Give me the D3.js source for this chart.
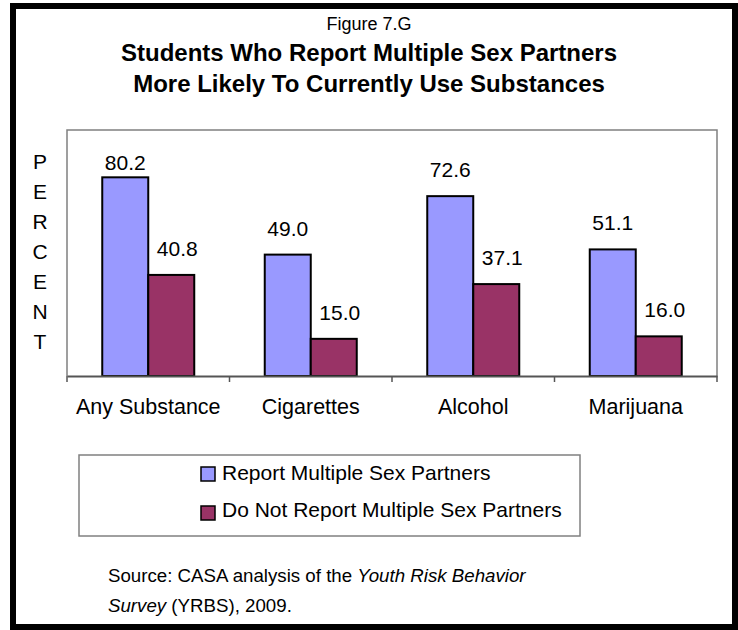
<!DOCTYPE html>
<html>
<head>
<meta charset="utf-8">
<script src="https://cdn.jsdelivr.net/npm/d3@7"></script>
<style>
  body { margin: 0; background: #fff; }
  svg text { font-family: "Liberation Sans", Arial, sans-serif; fill: #000; }
</style>
</head>
<body>
<svg id="chart" width="738" height="630"></svg>
<script>
var categories = ["Any Substance", "Cigarettes", "Alcohol", "Marijuana"];
var seriesNames = ["Report Multiple Sex Partners", "Do Not Report Multiple Sex Partners"];
var reportValues = [80.2, 49.0, 72.6, 51.1];
var notReportValues = [40.8, 15.0, 37.1, 16.0];
var seriesColors = ["#9999ff", "#993366"];
var axisLetters = ["P", "E", "R", "C", "E", "N", "T"];

var svg = d3.select("svg#chart");

var plotLeft = 67, plotRight = 717, plotTop = 130, plotBottom = 376;

var x = d3.scaleBand()
    .domain(categories)
    .range([plotLeft, plotRight])
    .paddingInner(0)
    .paddingOuter(0);

var y = d3.scaleLinear()
    .domain([0, 99.3])
    .range([plotBottom, plotTop]);

var barWidth = 46;

// outer frame
svg.append("rect")
    .attr("x", 13).attr("y", 6)
    .attr("width", 722).attr("height", 621)
    .attr("fill", "none")
    .attr("stroke", "#000")
    .attr("stroke-width", 6);

// titles
svg.append("text")
    .attr("x", 369).attr("y", 30)
    .attr("text-anchor", "middle")
    .attr("font-size", 18)
    .text("Figure 7.G");

svg.append("text")
    .attr("x", 369).attr("y", 61)
    .attr("text-anchor", "middle")
    .attr("font-size", 24)
    .attr("font-weight", "bold")
    .text("Students Who Report Multiple Sex Partners");

svg.append("text")
    .attr("x", 369).attr("y", 92)
    .attr("text-anchor", "middle")
    .attr("font-size", 24)
    .attr("font-weight", "bold")
    .text("More Likely To Currently Use Substances");

// plot frame (top, left, right grey)
svg.append("path")
    .attr("d", "M" + plotLeft + "," + plotBottom + "V" + plotTop + "H" + plotRight + "V" + plotBottom)
    .attr("fill", "none")
    .attr("stroke", "#808080")
    .attr("stroke-width", 1.5);

// bars
var seriesData = [reportValues, notReportValues];
for (var s = 0; s < seriesData.length; s++) {
    var g = svg.append("g").attr("id", "series" + s);
    g.selectAll("rect")
        .data(seriesData[s])
        .enter().append("rect")
        .attr("x", function(d, i) { return x(categories[i]) + x.bandwidth() / 2 - barWidth + s * barWidth; })
        .attr("y", function(d) { return y(d); })
        .attr("width", barWidth)
        .attr("height", function(d) { return y(0) - y(d); })
        .attr("fill", seriesColors[s])
        .attr("stroke", "#000")
        .attr("stroke-width", 2);

    g.selectAll("text")
        .data(seriesData[s])
        .enter().append("text")
        .attr("x", function(d, i) { return x(categories[i]) + x.bandwidth() / 2 - barWidth / 2 + s * barWidth + s * 6; })
        .attr("y", function(d) { return Math.max(y(d) - 19, 170); })
        .attr("text-anchor", "middle")
        .attr("font-size", 21)
        .text(function(d) { return d.toFixed(1); });
}

// x axis
var xAxis = d3.axisBottom(x).tickSize(0).tickPadding(22);
var axisG = svg.append("g")
    .attr("transform", "translate(0," + plotBottom + ")")
    .call(xAxis);
axisG.select(".domain").attr("stroke", "#555").attr("stroke-width", 2);
axisG.selectAll("text")
    .attr("font-size", 21.5)
    .attr("font-family", null)
    .attr("fill", "#000")
    .attr("dy", null)
    .attr("y", 38);

var tickXs = categories.map(function(c) { return x(c); }).concat([plotRight]);
svg.append("g").selectAll("line")
    .data(tickXs)
    .enter().append("line")
    .attr("x1", function(d) { return d; }).attr("x2", function(d) { return d; })
    .attr("y1", plotBottom).attr("y2", plotBottom + 6)
    .attr("stroke", "#555")
    .attr("stroke-width", 1.5);

// vertical PERCENT label
svg.append("g").selectAll("text")
    .data(axisLetters)
    .enter().append("text")
    .attr("x", 40)
    .attr("y", function(d, i) { return 169 + i * 30; })
    .attr("text-anchor", "middle")
    .attr("font-size", 21)
    .text(function(d) { return d; });

// legend
var legend = svg.append("g");
legend.append("rect")
    .attr("x", 79).attr("y", 455)
    .attr("width", 501).attr("height", 81)
    .attr("fill", "#fff")
    .attr("stroke", "#808080")
    .attr("stroke-width", 1.5);

legend.selectAll("rect.key")
    .data(seriesNames)
    .enter().append("rect")
    .attr("class", "key")
    .attr("x", 201)
    .attr("y", function(d, i) { return 467 + i * 39; })
    .attr("width", 14).attr("height", 14)
    .attr("fill", function(d, i) { return seriesColors[i]; })
    .attr("stroke", "#000")
    .attr("stroke-width", 1.5);

legend.selectAll("text")
    .data(seriesNames)
    .enter().append("text")
    .attr("x", 222)
    .attr("y", function(d, i) { return 480 + i * 37; })
    .attr("font-size", 21)
    .text(function(d) { return d; });

// source note
var src1 = svg.append("text").attr("x", 108).attr("y", 582).attr("font-size", 18.7);
src1.append("tspan").text("Source: CASA analysis of the ");
src1.append("tspan").attr("font-style", "italic").text("Youth Risk Behavior");

var src2 = svg.append("text").attr("x", 108).attr("y", 612).attr("font-size", 18.7);
src2.append("tspan").attr("font-style", "italic").text("Survey");
src2.append("tspan").text(" (YRBS), 2009.");
</script>
</body>
</html>
